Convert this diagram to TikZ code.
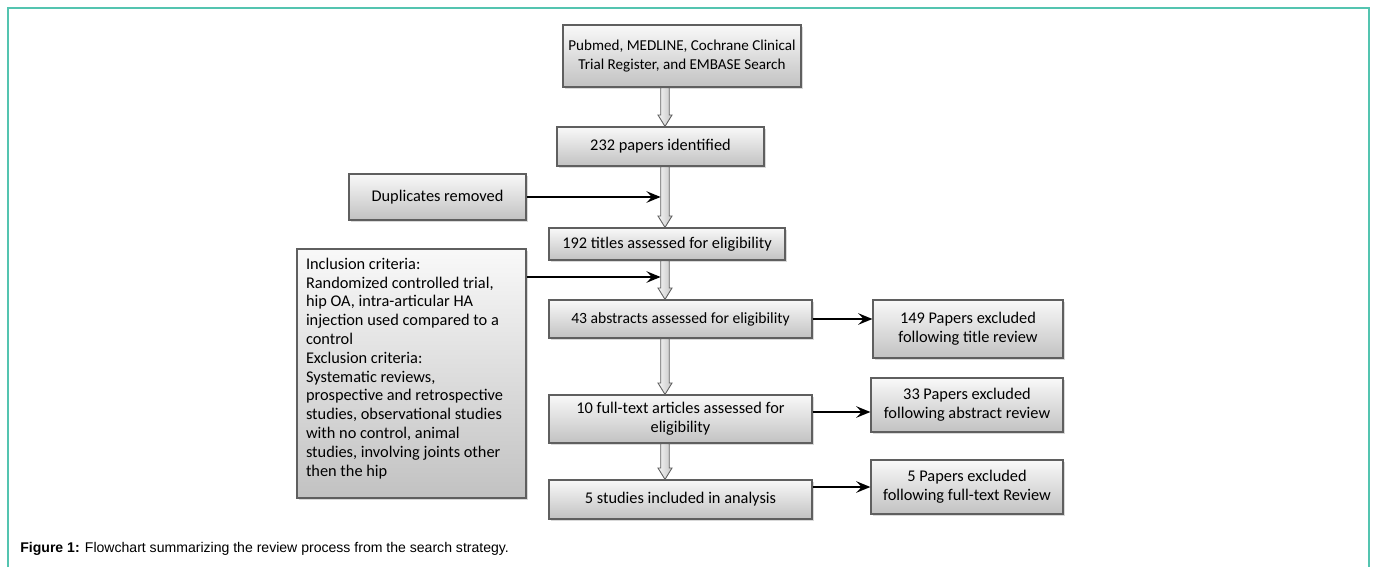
\documentclass[tikz,border=0pt]{standalone}
\usepackage{fontspec}
\usetikzlibrary{positioning,calc,arrows.meta,shadows}
\newfontfamily\boxfont{Carlito}
\newfontfamily\capfont{Liberation Sans}
\definecolor{frameteal}{RGB}{84,196,176}
\definecolor{boxline}{RGB}{95,95,95}
\tikzset{
    block/.style = {draw=boxline, rectangle, line width=0.7pt,
        top color=gray!5, bottom color=gray!48,
        drop shadow={shadow xshift=0.9pt, shadow yshift=-0.9pt, opacity=0.3},
        font=\boxfont\fontsize{9.3}{10.7}\selectfont, align=center, inner sep=2pt},
    link/.style = {draw, line width=1.1pt, -{Stealth[length=8pt,width=6.5pt,inset=3pt]}},
    hollow/.style = {draw=boxline, line width=0.5pt, left color=gray!8, right color=gray!45}
}
% hollow down arrow on the main column (ax)
\newcommand{\hollowdown}[2]{%
    \path[hollow] let \p1=(#1.south -| ax), \p2=(#2.north -| ax) in
        (\x1-2.4pt,\y1) -- (\x1-2.4pt,\y2+6.5pt) -- (\x1-4pt,\y2+6.5pt) -- (\x2,\y2)
        -- (\x1+4pt,\y2+6.5pt) -- (\x1+2.4pt,\y2+6.5pt) -- (\x1+2.4pt,\y1) -- cycle;
}

\begin{document}
\begin{tikzpicture}
    \useasboundingbox (0,0) rectangle (27.5,-11.34);
    \draw[frameteal, line width=1.1pt] (0.16,-11.34) -- (0.16,-0.16) -- (27.38,-0.16) -- (27.38,-11.34);
    \coordinate (ax) at (13.30,0);
    \coordinate (m2) at (13.30,-5.54);

    % main column
    \node[block, minimum width=4.76cm, minimum height=1.24cm, font=\boxfont\fontsize{8.6}{10.4}\selectfont] (search) at (13.64,-1.12) {Pubmed, MEDLINE, Cochrane Clinical\\Trial Register, and EMBASE Search};
    \node[block, minimum width=4.14cm, minimum height=0.78cm] (found) at (13.21,-2.93) {232 papers identified};
    \node[block, minimum width=4.72cm, minimum height=0.64cm] (titles) at (13.34,-4.88) {192 titles assessed for eligibility};
    \node[block, minimum width=5.26cm, minimum height=0.76cm, font=\boxfont\fontsize{8.9}{10.7}\selectfont] (abstracts) at (13.61,-6.38) {43 abstracts assessed for eligibility};
    \node[block, minimum width=5.26cm, minimum height=0.96cm] (fulltext) at (13.61,-8.38) {10 full-text articles assessed for\\eligibility};
    \node[block, minimum width=5.26cm, minimum height=0.78cm] (included) at (13.61,-9.99) {5 studies included in analysis};

    % left side
    \node[block, minimum width=3.54cm, minimum height=0.92cm] (dupl) at (8.75,-3.94) {Duplicates removed};
    \node[block, minimum width=4.58cm, minimum height=4.98cm] (criteria) at (8.23,-7.47) {\parbox[t][4.62cm][t]{4.22cm}{\raggedright
        Inclusion criteria:\\
        Randomized controlled trial,\\
        hip OA, intra-articular HA\\
        injection used compared to a\\
        control\\
        Exclusion criteria:\\
        Systematic reviews,\\
        prospective and retrospective\\
        studies, observational studies\\
        with no control, animal\\
        studies, involving joints other\\
        then the hip}};

    % right side
    \node[block, minimum width=3.80cm, minimum height=1.16cm] (excl1) at (19.36,-6.58) {149 Papers excluded\\following title review};
    \node[block, minimum width=3.84cm, minimum height=1.08cm] (excl2) at (19.34,-8.10) {33 Papers excluded\\following abstract review};
    \node[block, minimum width=3.84cm, minimum height=1.08cm] (excl3) at (19.34,-9.74) {5 Papers excluded\\following full-text Review};

    \foreach \a/\b in {search/found, found/titles, titles/abstracts, abstracts/fulltext, fulltext/included}{
        \hollowdown{\a}{\b}
    }

    \draw[link] (dupl.east) -- ([xshift=-2.5pt]dupl.east -| ax);
    \draw[link] (criteria.east |- m2) -- ([xshift=-2.5pt]m2);
    \draw[link] (abstracts.east) -- (abstracts.east -| excl1.west);
    \draw[link] ([yshift=1.4mm]fulltext.east) -- ([yshift=1.4mm]fulltext.east -| excl2.west);
    \draw[link] (excl3.west -| included.east) -- (excl3.west);

    \node[anchor=west, inner sep=0pt, font=\capfont\fontsize{8}{9.6}\selectfont] (caption) at (0.40,-10.98) {\textbf{Figure 1:} Flowchart summarizing the review process from the search strategy.};
\end{tikzpicture}
\end{document}
